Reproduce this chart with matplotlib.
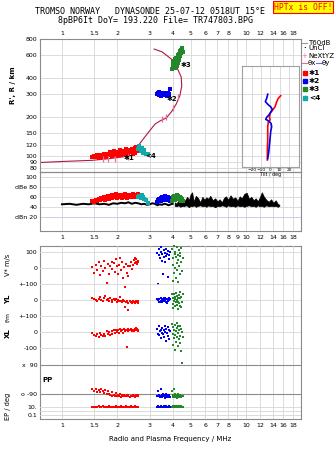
import matplotlib
matplotlib.use("Agg")
import matplotlib.pyplot as plt
from matplotlib.ticker import FixedLocator, FixedFormatter, NullLocator

# ---- axis ticks ----
freq_ticks = [1, 1.5, 2, 3, 4, 5, 6, 7, 8, 9, 10, 12, 14, 16, 18]
top_labels = ["1", "1.5", "2", "3", "4", "5", "6", "7", "8", "", "10", "12", "14", "16", "18"]
mid_labels = ["1", "1.5", "2", "3", "4", "5", "6", "7", "8", "9", "10", "12", "14", "16", "18"]
height_ticks = [80, 90, 100, 120, 150, 200, 300, 400, 600, 800]

# ---- height profile trace (MHz, km) ----
trace_f = [0.76, 1.04, 1.46, 1.83, 2.21, 2.44, 2.57, 2.77, 3.02, 3.21, 3.42, 3.69,
           3.93, 4.18, 4.37, 4.48, 4.45, 4.23, 3.93, 3.51, 3.17]
trace_h = [88.6, 90.4, 92.1, 95.1, 98.5, 102, 117, 135, 158, 176, 186, 196,
           218, 251, 290, 346, 406, 477, 560, 635, 669]
nextyz_f = [1.68, 1.79, 1.95, 2.29, 3.50, 3.69, 4.01, 4.30]
nextyz_h = [93.7, 94.2, 94.7, 97.1, 191, 200, 233, 283]

# ---- echoes: freq, height, amplitude, V*, YL, XL, PP, EP ----
red_f = [1.46, 1.50, 1.53, 1.56, 1.59, 1.62, 1.64, 1.67, 1.70, 1.72, 1.75, 1.78, 1.80, 1.83,
         1.86, 1.88, 1.91, 1.94, 1.96, 1.99, 2.02, 2.05, 2.07, 2.10, 2.13, 2.15, 2.18, 2.20,
         2.22, 2.25, 2.28, 2.30, 2.33, 2.36, 2.39, 2.42, 2.45, 2.48, 2.50, 2.52, 2.54, 2.56,
         2.58, 2.60]
red_h = [98, 100, 97, 101, 96, 99, 102, 98, 103, 100, 97, 104, 101, 106, 99, 103, 108, 102,
         105, 100, 107, 104, 110, 101, 106, 103, 109, 105, 112, 102, 108, 104, 110, 106, 113,
         103, 109, 115, 105, 111, 117, 108, 113, 110]
red_db = [52, 50, 55, 53, 57, 54, 58, 56, 60, 55, 59, 62, 57, 61, 64, 58, 63, 60, 66, 59, 62,
          65, 60, 63, 58, 64, 61, 66, 62, 59, 64, 61, 65, 60, 63, 66, 62, 64, 60, 65, 63, 61,
          66, 62]
red_v = [5, -30, 20, -10, 35, -45, 10, -20, 45, 0, -95, 25, -35, 15, 40, -5, 30, -25, 55, 10,
         -40, 20, 60, -15, 35, -60, 5, -120, 25, -30, 15, -50, 10, 40, -5, 20, 50, 30, 65, 40,
         55, 25, 45, 35]
red_yl = [12, 5, 3, -4, 8, 18, 2, -6, 10, 25, -2, 6, -8, 14, 0, -10, 4, -3, 9, -12, 2, -7, 16,
          -5, -14, 0, -9, -45, -11, -8, -60, -16, -4, -13, -18, -6, -15, -10, -17, -8, -14,
          -12, -9, -16]
red_xl = [-8, -20, -25, -12, -30, -5, -18, -28, -10, -22, 6, -15, -2, -20, 8, -12, 12, -5, 15,
          2, 10, -6, 18, 5, 14, -8, 20, 8, 10, -95, 16, 6, 12, 20, 4, 14, 9, 18, 12, 22, 10, 16,
          8, 14]
red_pp = [-62, -70, -58, -75, -66, -80, -60, -72, -84, -64, -92, -70, -88, -98, -76, -102,
          -95, -100, -86, -104, -97, -101, -90, -106, -99, -103, -94, -100, -105, -98, -102,
          -96, -107, -100, -104, -97, -103, -100, -106, -99, -104, -101, -98, -105]
red_ep = [9, 11, 8, 10, 12, 9, 7, 13, 10, 8, 11, 9, 12, 10, 8, 11, 9, 10, 13, 9, 11, 8, 10,
          12, 9, 11, 10, 7, 12, 9, 11, 10, 8, 13, 10, 9, 11, 10, 12, 9, 11, 10, 8, 11]

blue_f = [3.30, 3.33, 3.36, 3.39, 3.42, 3.45, 3.47, 3.50, 3.52, 3.55, 3.57, 3.60, 3.62, 3.65,
          3.67, 3.70, 3.72, 3.75, 3.78, 3.80, 3.83, 3.86]
blue_h = [300, 305, 295, 310, 298, 302, 290, 306, 299, 296, 304, 293, 301, 308, 297, 303, 291,
          299, 306, 294, 300, 328]
blue_db = [50, 54, 52, 57, 55, 59, 53, 58, 61, 56, 60, 54, 58, 62, 57, 60, 55, 59, 61, 56, 58, 53]
blue_v = [95, -100, 80, 120, 60, 100, 130, 45, 85, -40, 110, 70, 95, 35, 120, 75, 90, -55, 105,
          55, 80, 100]
blue_yl = [5, 0, -10, 8, -15, 12, -5, 3, -12, 6, -8, 15, -3, 10, -10, 4, -16, 7, -5, 12, -2, 9]
blue_xl = [20, -10, 35, -20, 5, -40, 15, -5, 25, -15, 10, -30, 40, 0, -55, 20, -8, 30, -25, 12,
           -45, 5]
blue_pp = [-100, -70, -105, -95, -110, -60, -102, -98, -108, -92, -104, -100, -112, -96, -106,
           -88, -102, -110, -99, -104, -94, -108]
blue_ep = [10, 12, 9, 11, 8, 10, 13, 9, 11, 10, 12, 8, 10, 11, 9, 12, 10, 11, 9, 13, 10, 11]

green_f = [3.98, 4.00, 4.02, 4.04, 4.06, 4.08, 4.10, 4.12, 4.14, 4.16, 4.18, 4.20, 4.22, 4.24,
           4.26, 4.28, 4.30, 4.32, 4.34, 4.36, 4.38, 4.40, 4.43, 4.46, 4.50, 4.55]
green_h = [470, 500, 530, 490, 545, 515, 480, 560, 525, 505, 575, 540, 495, 555, 600, 520, 585,
           610, 550, 630, 590, 645, 620, 660, 680, 640]
green_db = [52, 56, 60, 54, 58, 62, 55, 59, 63, 57, 61, 64, 56, 60, 62, 58, 63, 59, 61, 57, 60,
            55, 58, 53, 56, 52]
green_v = [120, -80, 60, 20, 140, -30, 90, 0, 100, -60, 70, 30, 130, -10, 80, 50, -90, 110, 15,
           75, -40, 95, 40, 125, -20, 60]
green_yl = [40, -50, 10, -25, 35, -5, 20, -40, 5, 45, -15, 25, -30, 0, -55, 15, -10, 30, -20,
            50, -35, 10, -45, 20, -10, 35]
green_xl = [50, -10, -80, 30, -40, 15, -110, 45, -20, 5, -60, 25, -30, 55, -5, -90, 35, -45, 10,
            -25, 40, -70, 20, -120, 0, -30]
green_pp = [-70, -100, -95, -108, -62, -104, -98, -110, -92, -106, -100, -112, -96, -103, -90,
            -108, -101, -97, -109, -94, -105, -99, -107, -102, 104, -100]
green_ep = [10, 8, 12, 9, 11, 10, 13, 9, 11, 10, 8, 12, 10, 9, 14, 10, 11, 9, 12, 10, 11, 8, 13,
            10, 9, 11]

teal_f = [2.60, 2.64, 2.68, 2.72, 2.75, 2.78, 2.85, 2.94]
teal_h = [112, 118, 108, 115, 105, 110, 103, 104]
teal_db = [60, 63, 58, 64, 61, 56, 55, 49]

# ---- noise level (black) ----
low_f = [1.0, 1.1, 1.2, 1.3, 1.4, 1.5, 1.6, 1.7, 1.8, 1.9, 2.0, 2.1, 2.2, 2.3, 2.4, 2.5, 2.6,
         2.7, 2.8, 2.9, 3.0, 3.1, 3.2, 3.3, 3.4, 3.5, 3.6, 3.7, 3.8, 3.9, 4.0]
low_db = [46, 47, 45, 47, 46, 48, 46, 47, 45, 48, 47, 49, 48, 50, 47, 49, 48, 46, 47, 45, 46,
          48, 47, 44, 46, 45, 47, 46, 44, 46, 47]
noise_f = [4.1, 4.2, 4.3, 4.4, 4.5, 4.6, 4.7, 4.8, 4.9, 5.0, 5.1, 5.2, 5.35, 5.5, 5.65, 5.8,
           5.95, 6.1, 6.25, 6.4, 6.6, 6.8, 7.0, 7.2, 7.4, 7.6, 7.8, 8.0, 8.25, 8.5, 8.75, 9.0,
           9.25, 9.5, 9.8, 10.1, 10.4, 10.7, 11.0, 11.3, 11.6, 11.9, 12.2, 12.5, 12.9, 13.3,
           13.7, 14.1, 14.5, 14.9, 15.2]
noise_hi = [50, 47, 55, 52, 58, 49, 56, 61, 54, 66, 70, 52, 63, 58, 50, 61, 55, 60, 57, 63, 54,
            58, 52, 56, 50, 59, 62, 55, 64, 57, 60, 53, 62, 58, 67, 69, 57, 61, 54, 58, 52, 60,
            70, 62, 55, 51, 56, 49, 54, 47, 45]
noise_lo = [43, 42, 44, 41, 43, 42, 44, 43, 40, 43, 42, 44, 41, 43, 44, 42, 43, 41, 44, 42, 43,
            40, 43, 42, 44, 43, 41, 44, 42, 43, 41, 44, 42, 43, 41, 43, 44, 42, 43, 41, 44, 42,
            43, 41, 44, 42, 43, 42, 43, 41, 43]

# ---- tilt profiles (deg, km) ----
tiltx_deg = [11.0, 8.5, 6.8, 5.0, 2.5, -0.3, -1.0, -0.3, -2.1, -2.8, -2.8, -3.2, -3.2]
tiltx_h = [291, 278, 262, 239, 226, 213, 200, 189, 183, 168, 132, 111, 92.6]
tilty_deg = [-2.8, -3.9, -5.3, -2.1, 0.4, 2.1, 1.4, -1.0, -3.9, -4.9, -2.1, 0.7, 1.4, 0.4,
             -0.3, -1.0, -1.7, -2.8]
tilty_h = [299, 278, 262, 247, 239, 228, 223, 209, 198, 191, 186, 178, 168, 154, 136, 121, 107, 95]

W, H = 335.0, 451.0
X0, X1 = 40.0, 301.3
GRID = "#d6d6d6"
FRAME = "#8a8a8a"
FS = 4.5
RED, BLUE, GREEN, TEAL = "#ff0000", "#0000ee", "#22882a", "#11aaaa"


def rect(top, bottom, left=X0, right=X1):
    return [left / W, 1 - bottom / H, (right - left) / W, (bottom - top) / H]


def ftext(x, y, s, **kw):
    kw.setdefault("fontsize", FS)
    kw.setdefault("va", "center")
    fig.text(x / W, 1 - y / H, s, **kw)


def style(ax, frame=True):
    ax.set_xscale("log")
    ax.set_xlim(0.76, 20)
    ax.xaxis.set_major_locator(FixedLocator(freq_ticks))
    ax.xaxis.set_minor_locator(NullLocator())
    ax.yaxis.set_minor_locator(NullLocator())
    ax.tick_params(length=0, labelsize=FS, pad=2)
    ax.xaxis.set_major_formatter(FixedFormatter([""] * len(freq_ticks)))
    for s in ax.spines.values():
        s.set_color(FRAME)
        s.set_linewidth(0.8)
        s.set_visible(frame)
    ax.grid(True, color=GRID, lw=0.6)
    ax.set_axisbelow(True)
    ax.set_facecolor("none")


def dots(ax, x, y, c, s=4.5, clip=True):
    ax.scatter(x, y, s=s, marker="s", c=c, linewidths=0, clip_on=clip, zorder=3)


fig = plt.figure(figsize=(W / 100, H / 100), dpi=100)

# ---- height panel ----
ax_h = fig.add_axes(rect(39, 172))
style(ax_h)
ax_h.set_yscale("log")
ax_h.set_ylim(74.8, 800)
ax_h.yaxis.set_major_locator(FixedLocator(height_ticks))
ax_h.yaxis.set_major_formatter(FixedFormatter([str(v) for v in height_ticks]))
ax_h.yaxis.set_minor_locator(NullLocator())
ax_h.xaxis.tick_top()
ax_h.xaxis.set_major_formatter(FixedFormatter(top_labels))
ax_h.plot(trace_f, trace_h, color="#b01840", lw=0.8, zorder=2)
ax_h.plot(nextyz_f, nextyz_h, ls="none", marker="|", ms=4, mew=0.9, color="#ee6a90", zorder=4)
dots(ax_h, red_f, red_h, RED, s=6)
dots(ax_h, blue_f, blue_h, BLUE, s=6)
dots(ax_h, green_f, green_h, GREEN, s=6)
dots(ax_h, teal_f, teal_h, TEAL, s=6)
for f, h, lab in [(2.16, 96, "✱1"), (3.72, 277, "✱2"), (4.4, 500, "✱3"), (2.84, 100, "<4")]:
    ax_h.text(f, h, lab, fontsize=5, fontweight="bold", va="center", zorder=5)

# ---- amplitude panel ----
ax_a = fig.add_axes(rect(172, 231))
style(ax_a)
ax_a.set_ylim(-7.4, 110.6)
ax_a.yaxis.set_major_locator(FixedLocator([20, 40, 60, 80, 100]))
ax_a.yaxis.set_major_formatter(FixedFormatter(["dBn 20", "40", "60", "dBe 80", "100"]))
ax_a.get_ygridlines()[0].set_color("#c4c4ee")
ax_a.xaxis.set_major_formatter(FixedFormatter(mid_labels))
ax_a.tick_params(axis="x", pad=3)
ax_a.plot(low_f, low_db, color="black", lw=1.4, zorder=2)
ax_a.fill_between(noise_f, noise_lo, noise_hi, color="black", lw=0.5, zorder=2)
dots(ax_a, red_f, red_db, RED, s=6)
dots(ax_a, blue_f, blue_db, BLUE, s=6)
dots(ax_a, green_f, green_db, GREEN, s=6)
dots(ax_a, teal_f, teal_db, TEAL, s=6)

# ---- lower composite panel ----
ax_bg = fig.add_axes(rect(246, 419))
ax_bg.set_xticks([])
ax_bg.set_yticks([])
for s in ax_bg.spines.values():
    s.set_color(FRAME)
    s.set_linewidth(0.8)

ax_v = fig.add_axes(rect(246, 284))
ax_yl = fig.add_axes(rect(284, 316))
ax_xl = fig.add_axes(rect(316, 356))
ax_pp = fig.add_axes(rect(356, 402))
ax_ep = fig.add_axes(rect(402, 419))
for ax in (ax_v, ax_yl, ax_xl, ax_pp, ax_ep):
    style(ax, frame=False)

ax_v.set_ylim(-100, 137.5)
ax_v.set_yticks([0, 100], ["0", "100"])
ax_yl.set_ylim(-100, 100)
ax_yl.set_yticks([0, 100], ["0", "+-100"])
ax_xl.set_ylim(-150, 100)
ax_xl.set_yticks([-100, 0, 100], ["-100", "0", "+-100"])
ax_pp.set_ylim(-139.7, 145.9)
ax_pp.set_yticks([-90, 90], ["o -90", "x  90"])
for gl in ax_pp.get_ygridlines():
    gl.set_color("#8c8c8c")
    gl.set_linewidth(0.8)
ax_ep.set_yscale("log")
ax_ep.set_ylim(0.0084, 149.6)
ax_ep.yaxis.set_major_locator(FixedLocator([0.1, 1, 10]))
ax_ep.yaxis.set_major_formatter(FixedFormatter(["0.1", "", "10."]))
ax_ep.yaxis.set_minor_locator(NullLocator())
ax_ep.xaxis.set_major_formatter(FixedFormatter(top_labels))
ax_ep.tick_params(axis="x", pad=3)

for ax, key in ((ax_v, 3), (ax_yl, 4), (ax_xl, 5), (ax_pp, 6), (ax_ep, 7)):
    for c, rows in ((RED, (red_f, red_h, red_db, red_v, red_yl, red_xl, red_pp, red_ep)),
                    (BLUE, (blue_f, blue_h, blue_db, blue_v, blue_yl, blue_xl, blue_pp, blue_ep)),
                    (GREEN, (green_f, green_h, green_db, green_v, green_yl, green_xl, green_pp, green_ep))):
        dots(ax, rows[0], rows[key], c, s=3.5, clip=False)

# ---- tilt inset ----
ax_t = fig.add_axes(rect(65.7, 167, 241.7, 299))
ax_t.set_facecolor("white")
ax_t.set_yscale("log")
ax_t.set_ylim(81.7, 497)
ax_t.set_xlim(-30.5, 30.5)
ax_t.xaxis.set_major_locator(FixedLocator([-20, -10, 0, 10, 20]))
ax_t.yaxis.set_major_locator(FixedLocator([100, 120, 150, 200, 300, 400]))
ax_t.yaxis.set_minor_locator(NullLocator())
ax_t.yaxis.set_major_formatter(FixedFormatter([""] * 6))
ax_t.tick_params(length=0, labelsize=3.2, pad=1)
ax_t.grid(True, color=GRID, lw=0.6)
ax_t.set_axisbelow(True)
for s in ax_t.spines.values():
    s.set_color("#a0a0a0")
    s.set_linewidth(0.8)
ax_t.set_xlabel("Tilt / deg", fontsize=3.4, labelpad=0)
ax_t.plot(tiltx_deg, tiltx_h, color=RED, lw=1.2)
ax_t.plot(tilty_deg, tilty_h, color=BLUE, lw=1.2)

# ---- titles and labels ----
ftext(150, 12, "TROMSO NORWAY   DYNASONDE 25-07-12 0518UT 15°E", ha="center",
      family="DejaVu Sans Mono", fontsize=6)
ftext(156, 20.5, "8pBP6It DoY= 193.220 File= TR747803.BPG", ha="center",
      family="DejaVu Sans Mono", fontsize=6)
ftext(303, 7, "HPTx is OFF!", ha="center", family="DejaVu Sans Mono", fontsize=5.8,
      color="#ff0000", bbox=dict(boxstyle="square,pad=0.15", fc="#ffff00", ec="#ff0000", lw=0.8))
ftext(13, 85, "R', R / km", rotation=90, ha="center", fontsize=5, fontweight="bold")
ftext(8, 265, "V* m/s", rotation=90, ha="center", fontsize=4.8)
ftext(8, 299, "YL", rotation=90, ha="center", fontsize=5, fontweight="bold")
ftext(8, 317, "f/m", rotation=90, ha="center", fontsize=4.3)
ftext(8, 333, "XL", rotation=90, ha="center", fontsize=5, fontweight="bold")
ftext(42, 380, "PP", fontsize=5, fontweight="bold")
ftext(8, 406, "EP / deg", rotation=90, ha="center", fontsize=4.8)
ftext(170, 438.7, "Radio and Plasma Frequency / MHz", ha="center", fontsize=5)

# ---- legend ----
fig.add_artist(plt.Line2D([302 / W, 307 / W], [1 - 43.3 / H] * 2, color="#999999", lw=0.8))
ftext(308, 43.3, "T60dB", fontsize=5)
ftext(304.5, 48.3, "·", ha="center", fontsize=5, fontweight="bold")
ftext(308, 48.3, "UnCl", fontsize=5)
ftext(304.5, 55.7, "+", ha="center", fontsize=5, color="#ee6a90")
ftext(308, 55.7, "NeXtYZ", fontsize=5)
fig.add_artist(plt.Line2D([302 / W, 307 / W], [1 - 63.3 / H] * 2, color="#ee6a90", lw=0.8))
ftext(307.5, 63.3, "θx", fontsize=5)
fig.add_artist(plt.Line2D([316 / W, 322 / W], [1 - 63.3 / H] * 2, color="#6a6aee", lw=0.8))
ftext(322, 63.3, "θy", fontsize=5)
for y, c, lab in [(72.7, RED, "✱1"), (81, BLUE, "✱2"), (89.3, GREEN, "✱3"), (98.3, TEAL, "<4")]:
    fig.add_artist(plt.Line2D([304.5 / W], [1 - y / H], marker="s", ms=2.6, color=c, lw=0))
    ftext(309, y, lab, fontsize=5.3, fontweight="bold")

fig.savefig("out.png", dpi=100)
